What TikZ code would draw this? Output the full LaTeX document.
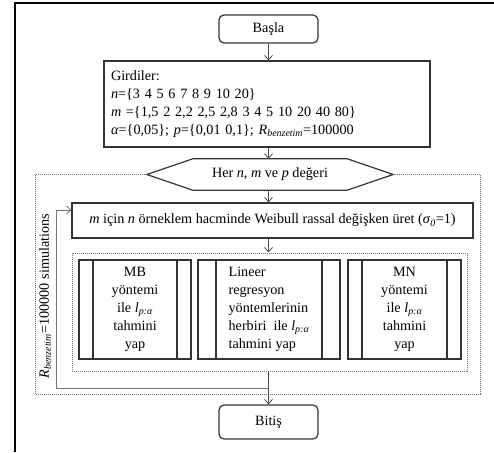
\documentclass[tikz,border=0pt]{standalone}
\usepackage{fontspec}
\setmainfont{Liberation Serif}
\usetikzlibrary{arrows.meta,fit,calc}

\newcommand{\iv}[1]{\textit{#1}}

\begin{document}
\begin{tikzpicture}[
  x=1pt, y=-1pt,
  font=\fontsize{14.2}{18}\selectfont,
  box/.style={
    draw=black!80,
    line width=1.2pt,
    align=center,
    inner sep=0pt,
    fill=white
  },
  terminal/.style={box, rounded corners=5pt, minimum width=99pt, minimum height=28pt},
  process/.style={box, minimum height=35pt},
  subproc/.style={box, minimum height=99pt,
    path picture={
      \draw[line width=1.2pt, draw=black!80]
        ([xshift=#1]path picture bounding box.north west) -- ([xshift=#1]path picture bounding box.south west)
        ([xshift=-#1]path picture bounding box.north east) -- ([xshift=-#1]path picture bounding box.south east);
    }},
  subproc/.default=14pt,
  arrow/.style={-{Straight Barb[length=4.5pt,width=8pt]}, line width=0.8pt, draw=black!70},
  loopline/.style={line width=0.8pt, draw=black!55},
  dotbox/.style={draw=black!55, line width=1pt, densely dotted}
]
\useasboundingbox (0,0) rectangle (494,452);

% page frame (left and top edge only)
\draw[line width=2pt] (15,452) -- (15,3) -- (494,3);

% Start and inputs
\node[terminal] (start) at (268.5,29) {Başla};
\node[box, minimum width=326pt, minimum height=86pt, text width=312pt, align=left] (inputs) at (267,104)
  {Girdiler:\\
   \iv{n}=\{3 4 5 6 7 8 9 10 20\}\\
   \iv{m} =\{1,5 2 2,2 2,5 2,8 3 4 5 10 20 40 80\}\\
   \iv{α}=\{0,05\}; \iv{p}=\{0,01 0,1\}; \iv{R}\textsubscript{\iv{benzetim}}=100000};

% Loop header (hexagon)
\node[minimum width=246pt, minimum height=31pt, inner sep=0pt] (hex) at (270,174.5)
  {Her \iv{n}, \iv{m} ve \iv{p} değeri};
\draw[line width=1.2pt, draw=black!80]
  ([xshift=46pt]hex.north west) -- ([xshift=-46pt]hex.north east) -- (hex.east)
  -- ([xshift=-46pt]hex.south east) -- ([xshift=46pt]hex.south west) -- (hex.west) -- cycle;

% Sample generation
\node[process, minimum width=401pt] (gen) at (272.5,220.5)
  {\iv{m} için \iv{n} örneklem hacminde Weibull rassal değişken üret (\iv{σ}\textsubscript{\iv{0}}=1)};

% Three estimation methods
\node[subproc, minimum width=112pt] (mb) at (135,309.5)
  {MB\\yöntemi\\ile \iv{l}\textsubscript{\iv{p:α}}\\tahmini\\yap};
\node[subproc=18pt, minimum width=142pt, align=left] (lr) at (269,309.5)
  {Lineer\\regresyon\\yöntemlerinin\\herbiri~ ile \iv{l}\textsubscript{\iv{p:α}}\\tahmini yap};
\node[subproc, minimum width=113pt] (mn) at (404.5,309.5)
  {MN\\yöntemi\\ile \iv{l}\textsubscript{\iv{p:α}}\\tahmini\\yap};

\coordinate (inNW) at (72,253);
\coordinate (inSE) at (467,371);
\node[dotbox, fit=(inNW)(inSE), inner sep=0pt] (methods) {};

% outer loop frame
\coordinate (outNW) at (35,174.5);
\coordinate (outSE) at (480,394);
\draw[dotbox] (hex.west) -- (outNW) |- (outSE) |- (hex.east);

\node[terminal, minimum height=34pt] (stop) at (268.5,422) {Bitiş};

\node[rotate=90] (simlabel) at (45,296)
  {\iv{R}\textsubscript{\iv{benzetim}}=100000 simulations};

\draw[arrow] (start) -- (start |- inputs.north);
\draw[arrow] (start |- inputs.south) -- (start |- hex.north);
\draw[arrow] (start |- hex.south) -- (start |- gen.north);
\draw[arrow] (start |- gen.south) -- (start |- methods.north);

% repeat R times
\coordinate (fbk) at (56,388);
\coordinate (fbtop) at (56,210);
\draw[loopline, -{Straight Barb[length=4.5pt,width=8pt]}]
  (start |- methods.south) |- (fbk) -- (fbtop) -- (fbtop -| gen.west);
\draw[arrow] (start |- methods.south) -- (stop.north);

\end{tikzpicture}
\end{document}
